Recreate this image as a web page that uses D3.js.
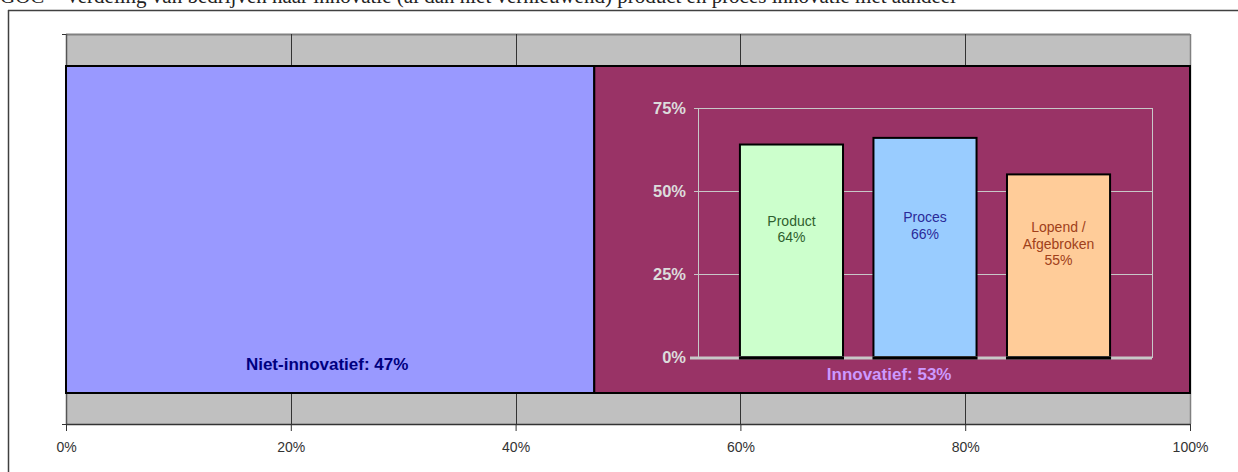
<!DOCTYPE html>
<html><head><meta charset="utf-8">
<script src="https://cdn.jsdelivr.net/npm/d3@7"></script>
<style>body{margin:0;background:#fff}svg{display:block}</style>
</head><body>
<svg id="c" width="1238" height="472"></svg>
<script>
// ---- data ----
const mainCategories = ["Niet-innovatief", "Innovatief"];
const mainValues = [0.47, 0.53];
const mainLabels = ["Niet-innovatief: 47%", "Innovatief: 53%"];
const xTicks = [0, 0.2, 0.4, 0.6, 0.8, 1.0];

const subCategories = ["Product", "Proces", "Lopend / Afgebroken"];
const subValues = [0.64, 0.66, 0.55];
const subLabelLines = [["Product", "64%"], ["Proces", "66%"], ["Lopend /", "Afgebroken", "55%"]];
const yTicks = [0, 0.25, 0.5, 0.75];

const svg = d3.select("#c");

// title (cut off at top in the reference)
svg.append("text").attr("x", 0).attr("y", 3)
  .attr("font-family", "Liberation Serif, Times New Roman, serif").attr("font-size", 21).attr("fill", "#222")
  .text("GOC – Verdeling van bedrijven naar innovatie (al dan niet vernieuwend) product en proces innovatie met aandeel");

// outer frame
svg.append("line").attr("x1", 8).attr("x2", 1238).attr("y1", 10.5).attr("y2", 10.5).attr("stroke", "#404040").attr("stroke-width", 1.5);
svg.append("line").attr("x1", 8.5).attr("x2", 8.5).attr("y1", 10).attr("y2", 472).attr("stroke", "#404040").attr("stroke-width", 1.5);

// main scales
const x = d3.scaleLinear().domain([0, 1]).range([66, 1190]);
const plotTop = 34, plotBottom = 424, barTop = 66, barBottom = 393;

// grey plot area
svg.append("rect").attr("x", x(0)).attr("y", plotTop).attr("width", x(1) - x(0)).attr("height", plotBottom - plotTop).attr("fill", "#c0c0c0");
svg.append("line").attr("x1", x(0)).attr("x2", x(1)).attr("y1", plotTop + 0.5).attr("y2", plotTop + 0.5).attr("stroke", "#808080").attr("stroke-width", 2);
svg.append("line").attr("x1", x(1) + 0.5).attr("x2", x(1) + 0.5).attr("y1", plotTop).attr("y2", plotBottom).attr("stroke", "#808080").attr("stroke-width", 1.5);

// gridlines
svg.append("g").selectAll("line").data(xTicks.slice(1, -1)).join("line")
  .attr("x1", d => Math.round(x(d)) + 0.5).attr("x2", d => Math.round(x(d)) + 0.5)
  .attr("y1", plotTop).attr("y2", plotBottom).attr("stroke", "#333").attr("stroke-width", 1);

// left axis line & ticks
svg.append("line").attr("x1", x(0) + 0.5).attr("x2", x(0) + 0.5).attr("y1", plotTop).attr("y2", plotBottom).attr("stroke", "#555").attr("stroke-width", 1.5);
svg.append("line").attr("x1", x(0) - 4).attr("x2", x(0)).attr("y1", plotTop + 0.5).attr("y2", plotTop + 0.5).attr("stroke", "#333");
svg.append("line").attr("x1", x(0) - 4).attr("x2", x(0)).attr("y1", plotBottom + 0.5).attr("y2", plotBottom + 0.5).attr("stroke", "#333");

// stacked main bars
const starts = d3.cumsum([0, ...mainValues]).slice(0, mainValues.length);
const mainColors = ["#9999ff", "#993366"];
svg.append("g").selectAll("rect").data(mainValues).join("rect")
  .attr("x", (d, i) => x(starts[i])).attr("y", barTop)
  .attr("width", d => x(d) - x(0)).attr("height", barBottom - barTop)
  .attr("fill", (d, i) => mainColors[i]).attr("stroke", "#000").attr("stroke-width", 2);

// bottom axis
const xAxis = d3.axisBottom(x).tickValues(xTicks).tickFormat(d3.format(".0%")).tickSize(7).tickSizeOuter(0);
const gx = svg.append("g").attr("transform", `translate(0,${plotBottom})`).call(xAxis);
gx.select(".domain").attr("stroke", "#333").attr("stroke-width", 1.5);
gx.selectAll(".tick line").attr("stroke", "#333");
gx.selectAll(".tick text").attr("font-family", "Arial, Liberation Sans, sans-serif").attr("font-size", 14).attr("fill", "#333").attr("dy", "1.3em");

// main labels
const labelColors = ["#000080", "#cc99ff"];
const labelY = [370, 380];
svg.append("g").selectAll("text").data(mainLabels).join("text")
  .attr("x", (d, i) => x(starts[i] + mainValues[i] / 2) - 3)
  .attr("y", (d, i) => labelY[i])
  .attr("text-anchor", "middle").attr("font-family", "Arial, Liberation Sans, sans-serif")
  .attr("font-weight", "bold").attr("font-size", 17).attr("fill", (d, i) => labelColors[i])
  .text(d => d);

// ---- inner chart ----
const ix0 = 698, ix1 = 1152;
const y = d3.scaleLinear().domain([0, 0.75]).range([357, 108]);
const xb = d3.scaleBand().domain(subCategories).range([ix0, ix1]).paddingInner(0.228).paddingOuter(0.314);

const inner = svg.append("g");
inner.append("rect").attr("x", ix0 + 0.5).attr("y", y(0.75) + 0.5).attr("width", ix1 - ix0).attr("height", y(0) - y(0.75))
  .attr("fill", "none").attr("stroke", "#c8c8c8").attr("stroke-width", 1);
inner.append("g").selectAll("line").data(yTicks.slice(1)).join("line")
  .attr("x1", ix0 - 4).attr("x2", ix1).attr("y1", d => Math.round(y(d)) + 0.5).attr("y2", d => Math.round(y(d)) + 0.5)
  .attr("stroke", "#c8c8c8").attr("stroke-width", 1);
inner.append("g").selectAll("text").data(yTicks).join("text")
  .attr("x", 686).attr("y", d => y(d) + 6).attr("text-anchor", "end")
  .attr("font-family", "Arial, Liberation Sans, sans-serif").attr("font-weight", "bold").attr("font-size", 16.5)
  .attr("fill", "#dcdcdc").text(d => d3.format(".0%")(d));

const subColors = ["#ccffcc", "#99ccff", "#ffcc99"];
const subTextColors = ["#2f5f2f", "#2a2a99", "#a0401a"];
inner.append("g").selectAll("rect").data(subValues).join("rect")
  .attr("x", (d, i) => xb(subCategories[i])).attr("y", d => y(d))
  .attr("width", xb.bandwidth()).attr("height", d => y(0) - y(d))
  .attr("fill", (d, i) => subColors[i]).attr("stroke", "#000").attr("stroke-width", 2);

// 0% axis line
inner.append("line").attr("x1", ix0 - 8).attr("x2", ix1).attr("y1", y(0) + 1).attr("y2", y(0) + 1)
  .attr("stroke", "#c8c8c8").attr("stroke-width", 3);
inner.append("g").selectAll("line").data(subValues).join("line")
  .attr("x1", (d, i) => xb(subCategories[i]) - 1).attr("x2", (d, i) => xb(subCategories[i]) + xb.bandwidth() + 1)
  .attr("y1", y(0) + 1).attr("y2", y(0) + 1).attr("stroke", "#000").attr("stroke-width", 3);

// bar labels
subValues.forEach((v, i) => {
  const lines = subLabelLines[i];
  const lh = 16.5;
  const mid = (y(v) + y(0)) / 2 - 22;
  const first = mid - (lines.length - 1) * lh / 2;
  const t = inner.append("text").attr("text-anchor", "middle")
    .attr("font-family", "Arial, Liberation Sans, sans-serif").attr("font-size", 14).attr("fill", subTextColors[i]);
  lines.forEach((l, k) => {
    t.append("tspan").attr("x", xb(subCategories[i]) + xb.bandwidth() / 2).attr("y", first + k * lh + 5).text(l);
  });
});
</script>
</body></html>
